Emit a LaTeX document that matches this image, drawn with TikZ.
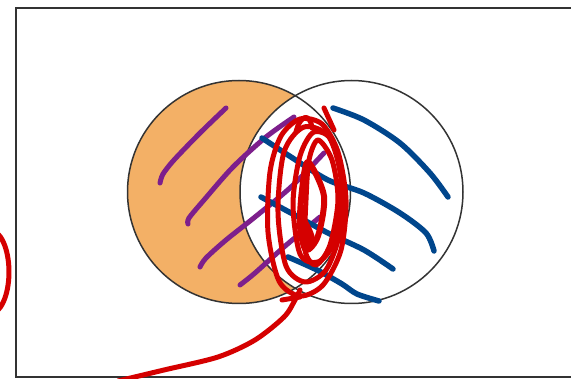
\documentclass[tikz,border=0pt]{standalone}
\definecolor{venorange}{HTML}{F3B066}
\definecolor{venpurple}{HTML}{7D1F8C}
\definecolor{venblue}{HTML}{00468C}
\definecolor{venred}{HTML}{D50000}
\definecolor{venline}{HTML}{333333}
\tikzset{
  circ/.style={draw=venline, line width=1.5pt},
  frame/.style={draw=venline, line width=2pt},
  pstroke/.style={draw=venpurple, line width=5pt, line cap=round, line join=round},
  bstroke/.style={draw=venblue, line width=5.5pt, line cap=round, line join=round},
  rstroke/.style={draw=venred, line width=5pt, line cap=round, line join=round},
}
\begin{document}
\begin{tikzpicture}[x=1pt,y=-1pt]
\useasboundingbox (0,0) rectangle (571,379);
\fill[white] (0,0) rectangle (571,379);
\draw[frame] (16,8) rectangle (590,377);
% circles
\coordinate (cA) at (239,192);
\coordinate (cB) at (351.5,192);
\fill[venorange] (cA) circle (111.5);
\fill[white] (cB) circle (111.5);
\draw[circ] (cA) circle (111.5);
\draw[circ] (cB) circle (111.5);
% purple strokes
\draw[pstroke] plot[smooth] coordinates {(226,108) (200,133) (174,160) (163,174) (160,183)};
\draw[pstroke] plot[smooth] coordinates {(294,117) (266,137) (233,167) (204,200) (189,218) (188,224)};
\draw[pstroke] plot[smooth] coordinates {(324,153) (291,187) (255,217) (226,240) (206,258) (200,267)};
\draw[pstroke] plot[smooth] coordinates {(320,217) (284,247) (255,273) (240,285)};
% blue strokes
\draw[bstroke] plot[smooth] coordinates {(333,108) (364,120) (400,143) (430,173) (448,197)};
\draw[bstroke] plot[smooth] coordinates {(262,138) (291,157) (328,180) (364,193) (400,213) (426,233) (434,251)};
\draw[bstroke] plot[smooth] coordinates {(261,197) (291,213) (328,233) (364,250) (393,269)};
\draw[bstroke] plot[smooth] coordinates {(288,257) (317,270) (342,284) (357,294) (379,301)};
% red scribble
\draw[rstroke] plot[smooth cycle] coordinates {(300,119) (322,124) (338,152) (346,200) (341,250) (323,285) (300,296) (279,281) (268,232) (270,172) (281,136)};
\draw[rstroke] plot[smooth cycle] coordinates {(304,127) (329,137) (342,182) (340,232) (326,270) (305,282) (286,266) (278,212) (284,152)};
\draw[rstroke] plot[smooth cycle] coordinates {(314,132) (333,142) (342,192) (334,242) (318,262) (300,254) (293,204) (300,156)};
\draw[rstroke] plot[smooth cycle] coordinates {(318,140) (332,160) (338,200) (330,245) (316,265) (305,250) (306,200) (309,160)};
\draw[rstroke, line width=6pt] plot[smooth cycle] coordinates {(308,162) (324,196) (318,236) (306,250) (300,226) (302,190)};
\fill[venred] plot[smooth cycle] coordinates {(302,215) (310,225) (315,240) (306,252) (300,240)};
\draw[rstroke] (324,108) -- (334,130);
\draw[rstroke] (296,132) .. controls (300,115) and (310,112) .. (312,128);
\draw[rstroke] (282,300) -- (300,297);
% tail
\draw[rstroke] plot[smooth] coordinates {(300,290) (295,300) (284,317) (255,340) (218,357) (164,370) (118,381)};
% left edge arc
\draw[rstroke] (-10,272) ellipse[x radius=19, y radius=42];
\end{tikzpicture}
\end{document}
